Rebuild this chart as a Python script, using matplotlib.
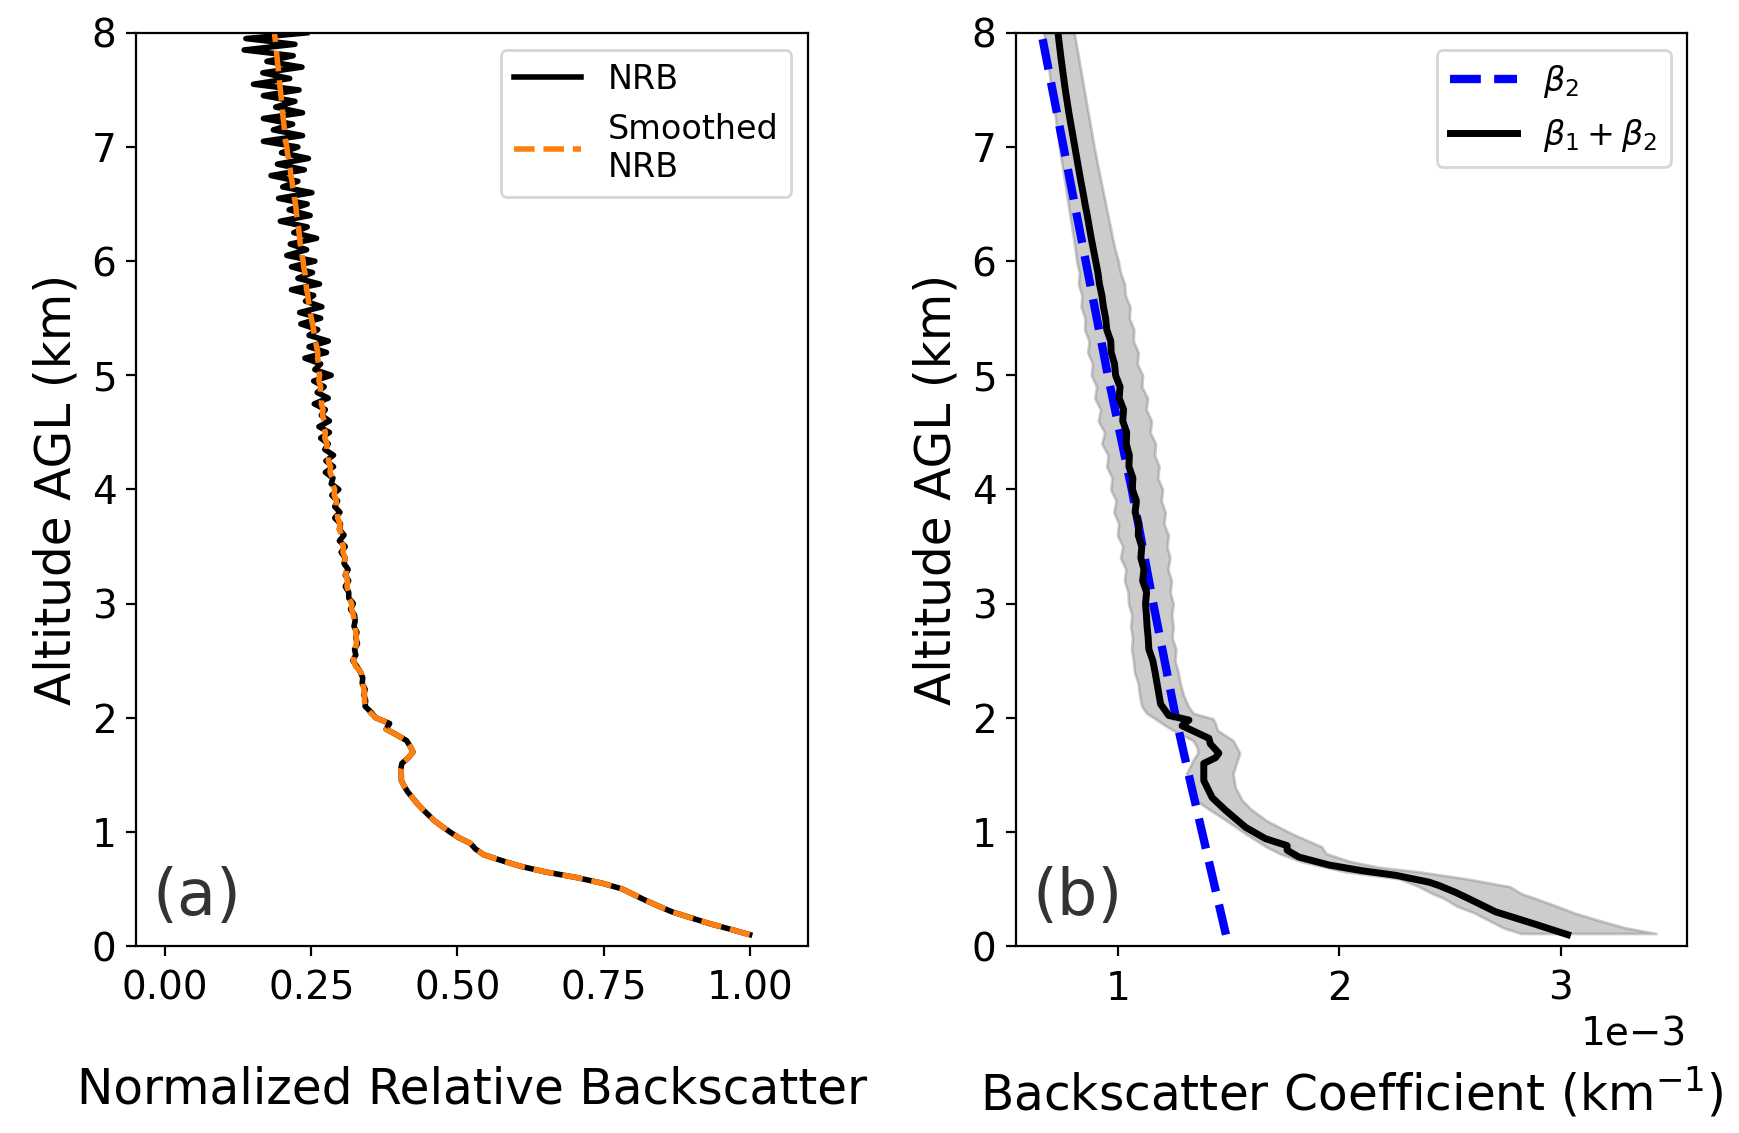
import numpy as np
import matplotlib
matplotlib.use("Agg")
import matplotlib.pyplot as plt

# ---------------- Panel (a): normalized relative backscatter ----------------
nrb_alt = np.round(np.arange(0.10, 8.001, 0.05), 2)  # km AGL, 50 m bins

nrb_smooth = [
    1.000, 0.965, 0.929, 0.898, 0.867, 0.844, 0.822, 0.802, 0.782, 0.748,
    0.704, 0.650, 0.607, 0.575, 0.545, 0.531, 0.522, 0.502, 0.487, 0.473,
    0.460, 0.450, 0.440, 0.431, 0.423, 0.415, 0.409, 0.404, 0.404, 0.403,
    0.405, 0.416, 0.424, 0.419, 0.413, 0.396, 0.378, 0.384, 0.360, 0.350,
    0.342, 0.341, 0.341, 0.340, 0.338, 0.336, 0.335, 0.326, 0.322, 0.324,
    0.325, 0.327, 0.327, 0.326, 0.325, 0.323, 0.322, 0.319, 0.319, 0.314,
    0.314, 0.311, 0.312, 0.309, 0.310, 0.307, 0.308, 0.304, 0.305, 0.301,
    0.302, 0.298, 0.299, 0.295, 0.295, 0.292, 0.293, 0.289, 0.290, 0.286,
    0.286, 0.282, 0.283, 0.279, 0.280, 0.276, 0.277, 0.273, 0.274, 0.271,
    0.272, 0.269, 0.270, 0.267, 0.268, 0.265, 0.266, 0.263, 0.264, 0.263,
    0.262, 0.261, 0.261, 0.259, 0.257, 0.255, 0.254, 0.252, 0.250, 0.248,
    0.247, 0.245, 0.244, 0.242, 0.241, 0.240, 0.239, 0.237, 0.236, 0.234,
    0.233, 0.231, 0.230, 0.229, 0.228, 0.226, 0.225, 0.224, 0.223, 0.221,
    0.220, 0.218, 0.217, 0.215, 0.214, 0.212, 0.211, 0.209, 0.208, 0.206,
    0.205, 0.204, 0.203, 0.202, 0.201, 0.200, 0.199, 0.198, 0.197, 0.196,
    0.195, 0.194, 0.193, 0.192, 0.191, 0.190, 0.189, 0.188, 0.187,
]

nrb = [
    1.000, 0.965, 0.929, 0.898, 0.867, 0.844, 0.822, 0.802, 0.782, 0.748,
    0.704, 0.650, 0.607, 0.575, 0.545, 0.531, 0.522, 0.502, 0.487, 0.473,
    0.460, 0.450, 0.440, 0.431, 0.423, 0.415, 0.409, 0.404, 0.404, 0.403,
    0.405, 0.416, 0.424, 0.419, 0.413, 0.396, 0.378, 0.384, 0.360, 0.352,
    0.342, 0.343, 0.340, 0.342, 0.337, 0.338, 0.334, 0.328, 0.321, 0.326,
    0.324, 0.329, 0.326, 0.328, 0.323, 0.325, 0.324, 0.317, 0.322, 0.314,
    0.314, 0.308, 0.314, 0.308, 0.313, 0.306, 0.308, 0.301, 0.308, 0.298,
    0.306, 0.298, 0.300, 0.290, 0.299, 0.290, 0.295, 0.285, 0.297, 0.284,
    0.287, 0.274, 0.288, 0.275, 0.288, 0.273, 0.279, 0.266, 0.281, 0.263,
    0.281, 0.267, 0.274, 0.255, 0.279, 0.260, 0.272, 0.254, 0.284, 0.256,
    0.266, 0.239, 0.276, 0.246, 0.279, 0.246, 0.261, 0.232, 0.266, 0.230,
    0.268, 0.240, 0.254, 0.216, 0.264, 0.227, 0.252, 0.216, 0.256, 0.208,
    0.242, 0.214, 0.259, 0.220, 0.243, 0.197, 0.248, 0.212, 0.243, 0.194,
    0.251, 0.201, 0.227, 0.181, 0.238, 0.192, 0.245, 0.199, 0.227, 0.168,
    0.235, 0.185, 0.218, 0.168, 0.235, 0.189, 0.222, 0.168, 0.229, 0.151,
    0.213, 0.167, 0.234, 0.174, 0.219, 0.135, 0.222, 0.138, 0.242,
]

# ---------------- Panel (b): backscatter coefficient (x 1e-3 km^-1) ----------------
beta_alt = [
    0.10, 0.15, 0.20, 0.30, 0.40, 0.47, 0.53, 0.56, 0.62, 0.66,
    0.71, 0.78, 0.84, 0.88, 0.94, 1.04, 1.19, 1.30, 1.45, 1.60,
    1.65, 1.69, 1.77, 1.82, 1.93, 1.98, 2.02, 2.12,
    2.2, 2.3, 2.4, 2.5, 2.6, 2.7, 2.8, 2.9, 3.0,
    3.1, 3.2, 3.3, 3.4, 3.5, 3.6, 3.7, 3.8, 3.9, 4.0,
    4.1, 4.2, 4.3, 4.4, 4.5, 4.6, 4.7, 4.8, 4.9, 5.0,
    5.1, 5.2, 5.3, 5.4, 5.5, 5.6, 5.7, 5.8, 5.9, 6.0,
    6.1, 6.2, 6.3, 6.4, 6.5, 6.6, 6.7, 6.8, 6.9, 7.0,
    7.1, 7.2, 7.3, 7.4, 7.5, 7.6, 7.7, 7.8, 7.9, 8.0,
]
beta_tot = [
    3.030, 2.950, 2.870, 2.705, 2.600, 2.525, 2.450, 2.404, 2.254, 2.103,
    1.953, 1.817, 1.764, 1.764, 1.667, 1.577, 1.486, 1.426, 1.388, 1.388,
    1.441, 1.456, 1.418, 1.411, 1.290, 1.321, 1.230, 1.193,
    1.186, 1.177, 1.168, 1.158, 1.140, 1.137, 1.132, 1.129, 1.125,
    1.130, 1.112, 1.118, 1.104, 1.108, 1.092, 1.095, 1.078, 1.084, 1.065,
    1.068, 1.050, 1.052, 1.038, 1.040, 1.022, 1.026, 1.006, 1.010, 0.990,
    0.985, 0.970, 0.968, 0.950, 0.945, 0.935, 0.928, 0.917, 0.910, 0.900,
    0.890, 0.880, 0.871, 0.862, 0.852, 0.843, 0.833, 0.824, 0.815, 0.806,
    0.797, 0.788, 0.779, 0.771, 0.763, 0.756, 0.749, 0.742, 0.736, 0.730,
]

fill_alt = [
    0.11, 0.16, 0.22, 0.29, 0.35, 0.42, 0.46, 0.52, 0.59, 0.65,
    0.69, 0.74, 0.81, 0.87, 0.98, 1.10, 1.20, 1.28, 1.39, 1.51,
    1.63, 1.69, 1.73, 1.80, 1.89, 1.95, 1.99, 2.04,
    2.1, 2.2, 2.3, 2.4, 2.5, 2.6, 2.7, 2.8, 2.9, 3.0,
    3.1, 3.2, 3.3, 3.4, 3.5, 3.6, 3.7, 3.8, 3.9, 4.0,
    4.1, 4.2, 4.3, 4.4, 4.5, 4.6, 4.7, 4.8, 4.9, 5.0,
    5.1, 5.2, 5.3, 5.4, 5.5, 5.6, 5.7, 5.8, 5.9, 6.0,
    6.1, 6.2, 6.3, 6.4, 6.5, 6.6, 6.7, 6.8, 6.9, 7.0,
    7.1, 7.2, 7.3, 7.4, 7.5, 7.6, 7.7, 7.8, 7.9, 8.0,
]
fill_lo = [
    2.82, 2.74, 2.68, 2.61, 2.53, 2.47, 2.42, 2.36, 2.27, 2.03,
    1.94, 1.83, 1.73, 1.67, 1.58, 1.49, 1.41, 1.35, 1.32, 1.31,
    1.34, 1.36, 1.36, 1.34, 1.25, 1.20, 1.17, 1.13,
    1.108, 1.098, 1.092, 1.075, 1.070, 1.062, 1.066, 1.058, 1.063, 1.048,
    1.046, 1.030, 1.036, 1.012, 1.022, 0.998, 1.004, 0.982, 0.992, 0.968,
    0.974, 0.950, 0.956, 0.928, 0.940, 0.912, 0.922, 0.896, 0.904, 0.880,
    0.886, 0.864, 0.870, 0.850, 0.852, 0.834, 0.838, 0.822, 0.826, 0.814,
    0.808, 0.800, 0.792, 0.784, 0.776, 0.768, 0.760, 0.752, 0.744, 0.736,
    0.729, 0.722, 0.715, 0.708, 0.701, 0.694, 0.687, 0.680, 0.673, 0.666,
]
fill_hi = [
    3.43, 3.29, 3.18, 3.06, 2.98, 2.88, 2.82, 2.77, 2.57, 2.36,
    2.18, 2.05, 1.94, 1.92, 1.79, 1.67, 1.60, 1.56, 1.53, 1.52,
    1.54, 1.55, 1.54, 1.52, 1.45, 1.44, 1.43, 1.34,
    1.318, 1.296, 1.282, 1.272, 1.258, 1.262, 1.245, 1.250, 1.243, 1.250,
    1.236, 1.242, 1.226, 1.235, 1.222, 1.228, 1.208, 1.214, 1.196, 1.202,
    1.180, 1.186, 1.166, 1.170, 1.146, 1.152, 1.128, 1.134, 1.108, 1.112,
    1.088, 1.092, 1.070, 1.072, 1.052, 1.055, 1.034, 1.030, 1.012, 1.002,
    0.988, 0.976, 0.966, 0.955, 0.945, 0.934, 0.924, 0.913, 0.903, 0.893,
    0.884, 0.875, 0.866, 0.857, 0.848, 0.839, 0.830, 0.821, 0.812, 0.803,
]

beta2_alt = [0.1, 0.5, 1.0, 1.5, 2.0, 3.0, 4.0, 5.0, 6.0, 7.0, 8.0]
beta2 = [1.488, 1.440, 1.380, 1.320, 1.262, 1.160, 1.063, 0.955, 0.855, 0.755, 0.655]

SCALE = 1e-3

fig = plt.figure(figsize=(8.695, 5.665), dpi=200)
ax1 = fig.add_axes([0.0782, 0.165, 0.3865, 0.806])
ax2 = fig.add_axes([0.5842, 0.165, 0.3860, 0.806])

# Panel (a)
ax1.plot(nrb, nrb_alt, color="black", lw=2, label="NRB")
ax1.plot(nrb_smooth, nrb_alt, color="#ff7f0e", ls="--", lw=2, label="Smoothed\nNRB")
ax1.set_xlim(-0.05, 1.1)
ax1.set_ylim(0, 8)
ax1.set_xticks([0.0, 0.25, 0.5, 0.75, 1.0])
ax1.set_xticklabels(["0.00", "0.25", "0.50", "0.75", "1.00"])
ax1.set_yticks(range(0, 9))
ax1.tick_params(labelsize=14)
ax1.tick_params(axis="x", pad=5)
ax1.set_xlabel("Normalized Relative Backscatter", fontsize=17.5, labelpad=21)
ax1.set_ylabel("Altitude AGL (km)", fontsize=17.5)
ax1.legend(loc="upper right", fontsize=12)
ax1.text(0.025, 0.02, "(a)", transform=ax1.transAxes, fontsize=23,
         color="#333333", ha="left", va="bottom")

# Panel (b)
ax2.fill_betweenx(fill_alt, np.array(fill_lo) * SCALE, np.array(fill_hi) * SCALE,
                  color="gray", alpha=0.4)
ax2.plot(np.array(beta2) * SCALE, beta2_alt, color="blue", ls="--", lw=3,
         label=r"$\beta_2$")
ax2.plot(np.array(beta_tot) * SCALE, beta_alt, color="black", lw=2.5,
         label=r"$\beta_1 + \beta_2$")
ax2.set_xlim(0.54e-3, 3.57e-3)
ax2.set_ylim(0, 8)
ax2.set_xticks([1e-3, 2e-3, 3e-3])
ax2.set_yticks(range(0, 9))
ax2.ticklabel_format(axis="x", style="sci", scilimits=(0, 0))
ax2.tick_params(labelsize=14)
ax2.tick_params(axis="x", pad=5)
ax2.xaxis.get_offset_text().set_fontsize(14)
ax2.set_xlabel(r"Backscatter Coefficient (km$^{-1}$)", fontsize=17.5, labelpad=21)
ax2.set_ylabel("Altitude AGL (km)", fontsize=17.5)
ax2.legend(loc="upper right", fontsize=12)
ax2.text(0.025, 0.02, "(b)", transform=ax2.transAxes, fontsize=23,
         color="#333333", ha="left", va="bottom")

fig.savefig("out.png", dpi=200)
